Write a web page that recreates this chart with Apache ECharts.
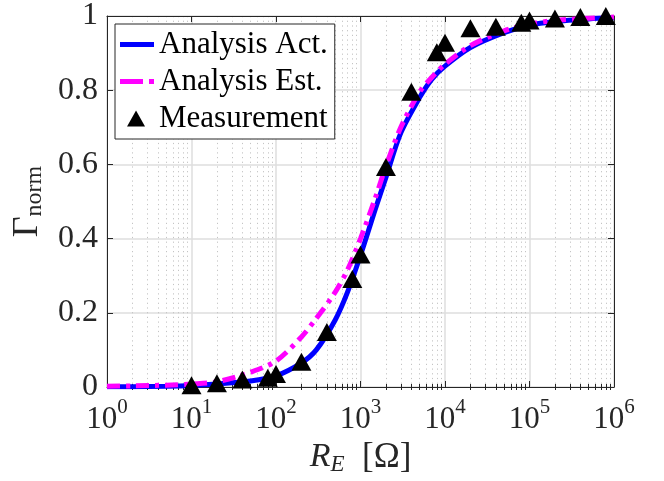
<!DOCTYPE html>
<html>
<head>
<meta charset="utf-8">
<script src="https://cdn.jsdelivr.net/npm/echarts@6/dist/echarts.min.js"></script>
<style>
  html, body { margin: 0; padding: 0; background: #fff; }
  #chart { width: 664px; height: 481px; }
</style>
</head>
<body>
<div id="chart"></div>
<script>
// Resistance values (ohm) where the analytic curves are sampled
const curveR = [1, 2, 5, 10, 20, 50, 100, 200, 300, 500, 700, 1000, 1500, 2000, 3000, 5000, 7000,
  1e4, 2e4, 5e4, 1e5, 2e5, 5e5, 1e6];
// Normalised reflection, actual analysis
const actual = [0.0005, 0.001, 0.002, 0.004, 0.008, 0.016, 0.03, 0.065, 0.10, 0.18, 0.255, 0.355,
  0.48, 0.565, 0.685, 0.78, 0.83, 0.865, 0.915, 0.955, 0.975, 0.985, 0.992, 0.995];
// Normalised reflection, estimated analysis
const estimated = [0.002, 0.003, 0.005, 0.008, 0.014, 0.04, 0.07, 0.135, 0.185, 0.255, 0.315, 0.40,
  0.51, 0.595, 0.70, 0.795, 0.835, 0.87, 0.92, 0.96, 0.978, 0.988, 0.994, 0.997];
// Measured points
const measR = [10, 20, 40, 80, 100, 200, 400, 800, 1000, 2000, 4000, 8000, 1e4, 2e4, 4e4, 8e4,
  1e5, 2e5, 4e5, 8e5];
const measured = [0.005, 0.01, 0.02, 0.025, 0.035, 0.068, 0.148, 0.291, 0.357, 0.593, 0.796, 0.902,
  0.928, 0.967, 0.971, 0.982, 0.988, 0.993, 0.997, 1.0];
// Axis ticks
const xExponents = [0, 1, 2, 3, 4, 5, 6];
const yTicks = [0, 0.2, 0.4, 0.6, 0.8, 1];

const serif = 'Liberation Serif';
const axisColor = '#262626';

// minor ticks of the log axis: 2..9 in each decade
const minorX = [];
for (let e = 0; e < 6; e++) {
  for (let m = 2; m <= 9; m++) minorX.push(m * Math.pow(10, e));
}
const majorX = xExponents.map(e => Math.pow(10, e));

const zip = (xs, ys) => xs.map((x, i) => [x, ys[i]]);

const baseLog = {
  type: 'log', logBase: 10, min: 1, max: 1e6,
  axisLine: { show: false },
  axisLabel: { show: false },
  splitLine: { show: false },
  axisTick: { show: false }
};

// legend swatches, each spanning a 34x18 box (move-to corners fix the box)
const solidIcon = 'path://M0,0 M34,18 M0,6.5 H34 V11.5 H0 Z';
const dashDotIcon = 'path://M0,0 M34,18 M0,6.5 H23 V11.5 H0 Z M29,6.5 H34 V11.5 H29 Z';
const triangleIcon = 'path://M0,0 M34,18 M16,1 L25,17 L7,17 Z';

const chart = echarts.init(document.getElementById('chart'), null, { renderer: 'canvas' });
chart.setOption({
  animation: false,
  backgroundColor: '#ffffff',
  grid: { left: 107, top: 15, width: 507, height: 373, containLabel: false },
  xAxis: [
    {
      // main bottom axis with decade labels
      type: 'log', logBase: 10, min: 1, max: 1e6, position: 'bottom',
      axisLine: { show: true, onZero: false, lineStyle: { color: axisColor, width: 1 } },
      axisTick: { show: true, inside: true, length: 6, customValues: majorX, lineStyle: { color: axisColor } },
      splitLine: { show: true, lineStyle: { color: '#dedede', width: 1.5 } },
      axisLabel: {
        show: true, margin: 10, customValues: majorX,
        formatter: v => '{b|10}{s|' + xExponents[Math.round(Math.log10(v))] + '}',
        rich: {
          b: { fontFamily: serif, fontSize: 31, color: axisColor },
          s: { fontFamily: serif, fontSize: 21, color: axisColor, padding: [0, 0, 24, 0] }
        }
      },
      name: '{r|R}{e|E}{t|  [Ω]}',
      nameLocation: 'middle', nameGap: 52,
      nameTextStyle: {
        rich: {
          r: { fontFamily: serif, fontStyle: 'italic', fontSize: 34, color: axisColor },
          e: { fontFamily: serif, fontStyle: 'italic', fontSize: 23, color: axisColor, padding: [14, 0, 0, 0] },
          t: { fontFamily: serif, fontSize: 35, color: axisColor }
        }
      }
    },
    {
      // minor grid and minor ticks on the bottom edge
      ...baseLog, position: 'bottom',
      axisTick: { show: true, inside: true, length: 3, customValues: minorX, lineStyle: { color: axisColor } },
      splitLine: { show: true, lineStyle: { color: '#c4c4c4', width: 1, type: [1.2, 3.5] } }
    },
    {
      // top edge box line with major ticks
      ...baseLog, position: 'top',
      axisLine: { show: true, onZero: false, lineStyle: { color: axisColor, width: 1 } },
      axisTick: { show: true, inside: true, length: 6, customValues: majorX, lineStyle: { color: axisColor } }
    },
    {
      // top edge minor ticks
      ...baseLog, position: 'top',
      axisTick: { show: true, inside: true, length: 3, customValues: minorX, lineStyle: { color: axisColor } }
    }
  ],
  yAxis: [
    {
      type: 'value', min: 0, max: 1, interval: 0.2, position: 'left',
      axisLine: { show: true, onZero: false, lineStyle: { color: axisColor, width: 1 } },
      axisTick: { show: true, inside: true, length: 6, lineStyle: { color: axisColor } },
      splitLine: { show: true, lineStyle: { color: '#dedede', width: 1.5 } },
      axisLabel: {
        margin: 9, fontFamily: serif, fontSize: 32, color: axisColor,
        formatter: v => String(yTicks[Math.round(v / 0.2)])
      },
      name: '{g|Γ}{n|norm}',
      nameLocation: 'middle', nameGap: 58, nameRotate: 90,
      nameTextStyle: {
        rich: {
          g: { fontFamily: serif, fontSize: 36, color: axisColor },
          n: { fontFamily: serif, fontSize: 24, color: axisColor, padding: [16, 0, 0, 0] }
        }
      }
    },
    {
      type: 'value', min: 0, max: 1, interval: 0.2, position: 'right',
      axisLine: { show: true, onZero: false, lineStyle: { color: axisColor, width: 1 } },
      axisTick: { show: true, inside: true, length: 6, lineStyle: { color: axisColor } },
      splitLine: { show: false },
      axisLabel: { show: false }
    }
  ],
  legend: {
    orient: 'vertical', left: 115, top: 24,
    backgroundColor: '#ffffff',
    borderColor: axisColor, borderWidth: 1,
    padding: [5, 7, 5, 5],
    itemGap: 6, itemWidth: 34, itemHeight: 18,
    symbolKeepAspect: true,
    textStyle: { fontFamily: serif, fontSize: 31, color: '#000', lineHeight: 31 },
    data: [
      { name: 'Analysis Act.', icon: solidIcon },
      { name: 'Analysis Est.', icon: dashDotIcon },
      { name: 'Measurement', icon: triangleIcon }
    ]
  },
  series: [
    {
      name: 'Analysis Act.', type: 'line', data: zip(curveR, actual),
      smooth: 0.3, symbol: 'none', xAxisIndex: 0, yAxisIndex: 0,
      lineStyle: { color: '#0000ff', width: 5 }, itemStyle: { color: '#0000ff' }, z: 3
    },
    {
      name: 'Analysis Est.', type: 'line', data: zip(curveR, estimated),
      smooth: 0.3, symbol: 'none', xAxisIndex: 0, yAxisIndex: 0,
      lineStyle: { color: '#ff00ff', width: 5, type: [13, 6, 4, 6] }, itemStyle: { color: '#ff00ff' }, z: 4
    },
    {
      name: 'Measurement', type: 'scatter', data: zip(measR, measured),
      symbol: 'triangle', symbolSize: [20, 18], xAxisIndex: 0, yAxisIndex: 0,
      itemStyle: { color: '#000000', opacity: 1 }, clip: false, z: 5
    }
  ]
});
</script>
</body>
</html>
